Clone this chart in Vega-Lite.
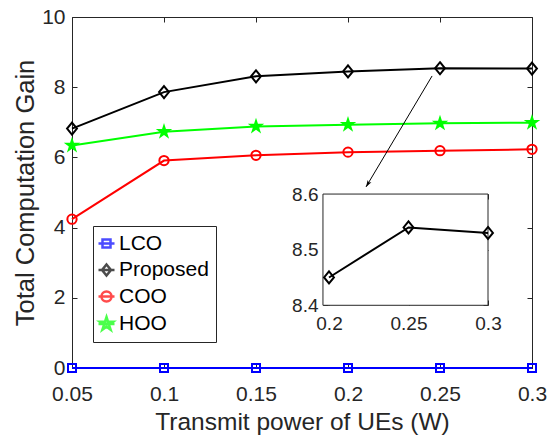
{
"$schema":"https://vega.github.io/schema/vega-lite/v6.json",
"width":460,"height":351,
"autosize":{"type":"none"},
"padding":{"left":72,"top":17,"right":22,"bottom":67},
"background":"white",
"config":{
 "view":{"stroke":null},
 "font":"Liberation Sans",
 "axis":{"grid":false,"domainColor":"#262626","tickColor":"#262626","labelColor":"#262626","titleColor":"#262626","labelFont":"Liberation Sans","titleFont":"Liberation Sans","titleFontWeight":"normal","domainWidth":1,"tickWidth":1,"tickSize":-5,"labelFlush":false,"labelOverlap":false,"labelBound":false,"labelExpr":"'' + datum.value"}
},
"datasets":{
 "main":[
  {"scheme":"LCO","power":0.05,"gain":0},{"scheme":"LCO","power":0.1,"gain":0},{"scheme":"LCO","power":0.15,"gain":0},{"scheme":"LCO","power":0.2,"gain":0},{"scheme":"LCO","power":0.25,"gain":0},{"scheme":"LCO","power":0.3,"gain":0},
  {"scheme":"Proposed","power":0.05,"gain":6.82},{"scheme":"Proposed","power":0.1,"gain":7.86},{"scheme":"Proposed","power":0.15,"gain":8.31},{"scheme":"Proposed","power":0.2,"gain":8.45},{"scheme":"Proposed","power":0.25,"gain":8.54},{"scheme":"Proposed","power":0.3,"gain":8.53},
  {"scheme":"COO","power":0.05,"gain":4.24},{"scheme":"COO","power":0.1,"gain":5.91},{"scheme":"COO","power":0.15,"gain":6.06},{"scheme":"COO","power":0.2,"gain":6.15},{"scheme":"COO","power":0.25,"gain":6.19},{"scheme":"COO","power":0.3,"gain":6.23},
  {"scheme":"HOO","power":0.05,"gain":6.34},{"scheme":"HOO","power":0.1,"gain":6.73},{"scheme":"HOO","power":0.15,"gain":6.88},{"scheme":"HOO","power":0.2,"gain":6.93},{"scheme":"HOO","power":0.25,"gain":6.97},{"scheme":"HOO","power":0.3,"gain":6.99}
 ],
 "inset":[
  {"power":0.2,"gain":8.45},{"power":0.25,"gain":8.54},{"power":0.3,"gain":8.53}
 ]
},
"layer":[
 {"layer":[
  {"data":{"name":"main"},"transform":[{"filter":"datum.scheme==='LCO'"}],"mark":{"type":"line","strokeWidth":2,"color":"#0000ff"},
   "encoding":{
    "x":{"field":"power","type":"quantitative","scale":{"domain":[0.05,0.3],"nice":false,"zero":false},
      "axis":{"orient":"bottom","values":[0.05,0.1,0.15,0.2,0.25,0.3],"labelFontSize":21,"labelPadding":20,"title":"Transmit power of UEs (W)","titleFontSize":24.5,"titleY":61,"titleBaseline":"alphabetic"}},
    "y":{"field":"gain","type":"quantitative","scale":{"domain":[0,10],"nice":false,"zero":false},
      "axis":{"orient":"left","values":[0,2,4,6,8,10],"labelFontSize":21,"labelPadding":12,"title":"Total Computation Gain","titleFontSize":25.5,"titleX":-39,"titleAngle":-90,"titleBaseline":"alphabetic"}}
   }},
  {"data":{"name":"main"},"transform":[{"filter":"datum.scheme==='LCO'"}],
   "mark":{"type":"point","shape":"square","size":64,"filled":false,"color":"#0000ff","strokeWidth":2,"opacity":1},
   "encoding":{
    "x":{"field":"power","type":"quantitative","axis":{"orient":"top","values":[0.05,0.1,0.15,0.2,0.25,0.3],"labels":false,"title":null}},
    "y":{"field":"gain","type":"quantitative","axis":{"orient":"right","values":[0,2,4,6,8,10],"labels":false,"title":null}}
   }},
  {"data":{"name":"main"},"transform":[{"filter":"datum.scheme==='Proposed'"}],"mark":{"type":"line","strokeWidth":2,"color":"#000000"},
   "encoding":{
    "x":{"field":"power","type":"quantitative","axis":null},
    "y":{"field":"gain","type":"quantitative","axis":null}
   }},
  {"data":{"name":"main"},"transform":[{"filter":"datum.scheme==='Proposed'"}],
   "mark":{"type":"point","shape":"M0,-1.1L0.9,0L0,1.1L-0.9,0Z","size":120,"filled":false,"color":"#000000","strokeWidth":2,"opacity":1},
   "encoding":{
    "x":{"field":"power","type":"quantitative","axis":null},
    "y":{"field":"gain","type":"quantitative","axis":null}
   }},
  {"data":{"name":"main"},"transform":[{"filter":"datum.scheme==='COO'"}],"mark":{"type":"line","strokeWidth":2,"color":"#ff0000"},
   "encoding":{
    "x":{"field":"power","type":"quantitative","axis":null},
    "y":{"field":"gain","type":"quantitative","axis":null}
   }},
  {"data":{"name":"main"},"transform":[{"filter":"datum.scheme==='COO'"}],
   "mark":{"type":"point","shape":"circle","size":86,"filled":false,"color":"#ff0000","strokeWidth":2,"opacity":1},
   "encoding":{
    "x":{"field":"power","type":"quantitative","axis":null},
    "y":{"field":"gain","type":"quantitative","axis":null}
   }},
  {"data":{"name":"main"},"transform":[{"filter":"datum.scheme==='HOO'"}],"mark":{"type":"line","strokeWidth":2,"color":"#00ff00"},
   "encoding":{
    "x":{"field":"power","type":"quantitative","axis":null},
    "y":{"field":"gain","type":"quantitative","axis":null}
   }},
  {"data":{"name":"main"},"transform":[{"filter":"datum.scheme==='HOO'"}],
   "mark":{"type":"point","shape":"M0,-1L0.2245,-0.309L0.951,-0.309L0.3633,0.118L0.588,0.809L0,0.382L-0.588,0.809L-0.3633,0.118L-0.951,-0.309L-0.2245,-0.309Z","size":300,"filled":true,"color":"#00ff00","opacity":1},
   "encoding":{
    "x":{"field":"power","type":"quantitative","axis":null},
    "y":{"field":"gain","type":"quantitative","axis":null}
   }},
  {"data":{"name":"main"},"transform":[{"filter":"datum.gain < -1"}],
   "mark":{"type":"point","strokeWidth":2},
   "encoding":{
    "stroke":{"field":"scheme","type":"nominal","scale":{"domain":["LCO","Proposed","COO","HOO"],"range":["#0000ff","#000000","#ff0000","#00ff00"]},
      "legend":{"orient":"none","legendX":21,"legendY":209,"title":null,"labelFontSize":21,"labelFont":"Liberation Sans","labelColor":"#000000","strokeColor":"#262626","fillColor":"#ffffff","padding":7,"rowPadding":4.5,"symbolSize":100,"symbolStrokeWidth":2.5,"labelOffset":2,"symbolOffset":-4}},
    "fill":{"field":"scheme","type":"nominal","scale":{"domain":["LCO","Proposed","COO","HOO"],"range":["transparent","transparent","transparent","#00ff00"]},
      "legend":{"orient":"none","legendX":21,"legendY":209,"title":null,"labelFontSize":21,"labelFont":"Liberation Sans","labelColor":"#000000","strokeColor":"#262626","fillColor":"#ffffff","padding":7,"rowPadding":4.5,"symbolSize":100,"symbolStrokeWidth":2.5,"labelOffset":2,"symbolOffset":-4}},
    "shape":{"field":"scheme","type":"nominal","scale":{"domain":["LCO","Proposed","COO","HOO"],"range":["M-1.6,0H1.6M-0.8,-0.8H0.8V0.8H-0.8Z","M-1.6,0H1.6M0,-1.1L0.9,0L0,1.1L-0.9,0Z","M-1.6,0H1.6M-1,0A1,1,0,1,0,1,0A1,1,0,1,0,-1,0Z","M-1.6,0H1.6M0,-1.4L0.314,-0.433L1.331,-0.433L0.509,0.165L0.823,1.133L0,0.535L-0.823,1.133L-0.509,0.165L-1.331,-0.433L-0.314,-0.433Z"]},
      "legend":{"orient":"none","legendX":21,"legendY":209,"title":null,"labelFontSize":21,"labelFont":"Liberation Sans","labelColor":"#000000","strokeColor":"#262626","fillColor":"#ffffff","padding":7,"rowPadding":4.5,"symbolSize":100,"symbolStrokeWidth":2.5,"labelOffset":2,"symbolOffset":-4}}
   }},
  {"data":{"values":[{}]},"mark":{"type":"rule","color":"#000000","strokeWidth":1},
   "encoding":{
    "x":{"datum":0.2457,"type":"quantitative","axis":null},
    "y":{"datum":8.32,"type":"quantitative","axis":null},
    "x2":{"datum":0.2098},
    "y2":{"datum":5.16}
   }},
  {"data":{"values":[{}]},"mark":{"type":"point","shape":"M0,0L-0.55,-1.7L0,-1.3L0.55,-1.7Z","filled":true,"color":"#000000","size":64,"angle":31,"opacity":1},
   "encoding":{
    "x":{"datum":0.2098,"type":"quantitative","axis":null},
    "y":{"datum":5.16,"type":"quantitative","axis":null}
   }}
 ]},
 {"layer":[
  {"data":{"values":[{}]},"mark":{"type":"rect","fill":"#ffffff","stroke":"#262626","strokeWidth":1},
   "encoding":{
    "x":{"datum":0.1962,"type":"quantitative","scale":{"domain":[0.03836,0.32767],"nice":false,"zero":false},
      "axis":{"orient":"bottom","offset":-63,"values":[0.2,0.25,0.3],"domain":false,"labelFontSize":19,"labelPadding":14,"title":null}},
    "x2":{"datum":0.3},
    "y":{"datum":8.4,"type":"quantitative","scale":{"domain":[8.28723,8.91835],"nice":false,"zero":false},
      "axis":{"orient":"left","offset":-251,"values":[8.4,8.5,8.6],"domain":false,"labelFontSize":19,"labelPadding":10,"title":null}},
    "y2":{"datum":8.6}
   }},
  {"data":{"name":"inset"},"mark":{"type":"line","color":"#000000","strokeWidth":2},
   "encoding":{
    "x":{"field":"power","type":"quantitative","axis":null},
    "y":{"field":"gain","type":"quantitative","axis":null}
   }},
  {"data":{"name":"inset"},"mark":{"type":"point","shape":"M0,-1.1L0.9,0L0,1.1L-0.9,0Z","size":120,"filled":false,"color":"#000000","strokeWidth":2,"opacity":1},
   "encoding":{
    "x":{"field":"power","type":"quantitative","axis":{"orient":"top","offset":-177,"values":[0.2,0.25,0.3],"labels":false,"domain":false,"title":null}},
    "y":{"field":"gain","type":"quantitative","axis":{"orient":"right","offset":-44,"values":[8.4,8.5,8.6],"labels":false,"domain":false,"title":null}}
   }}
 ]}
],
"resolve":{"scale":{"x":"independent","y":"independent"}}
}
